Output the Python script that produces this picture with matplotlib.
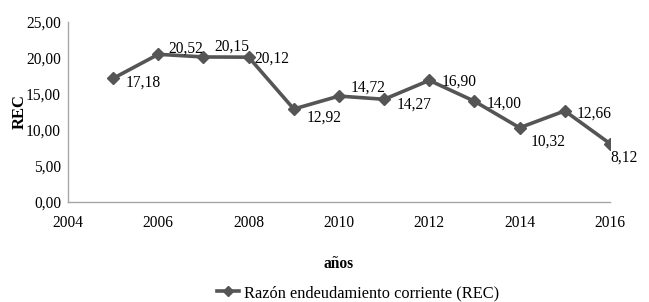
import matplotlib
matplotlib.use('Agg')
import matplotlib.pyplot as plt
from matplotlib.ticker import FuncFormatter

plt.rcParams['font.family'] = ['Liberation Serif', 'DejaVu Serif']

# datos
anios = [2005, 2006, 2007, 2008, 2009, 2010, 2011, 2012, 2013, 2014, 2015, 2016]
rec = [17.18, 20.52, 20.15, 20.12, 12.92, 14.72, 14.27, 16.90, 14.00, 10.32, 12.66, 8.12]
# posicion de cada etiqueta respecto al punto (en pixeles)
offsets = [(12, -4), (10, 6), (11, 10), (6, -1), (13, -9), (12, 8), (12, -5), (12, -1),
           (12, -2), (11, -14), (12, -3), (0, -14)]

fig = plt.figure(figsize=(6.49, 3.02), dpi=100)
ax = fig.add_axes([0.1048, 0.331, 0.835, 0.596])

ax.plot(anios, rec, color='#555555', linewidth=2.6, marker='D', markersize=6,
        label='Razón endeudamiento corriente (REC)')

for x, y, (dx, dy) in zip(anios, rec, offsets):
    ax.annotate(('%.2f' % y).replace('.', ','), (x, y), xytext=(dx * 0.72, dy * 0.72),
                textcoords='offset points', ha='left', va='center', fontsize=11.2)

ax.set_xlim(2004, 2016)
ax.set_ylim(0, 25)
ax.set_xticks(range(2004, 2017, 2))
ax.set_yticks(range(0, 26, 5))
ax.yaxis.set_major_formatter(FuncFormatter(lambda v, p: ('%.2f' % v).replace('.', ',')))
ax.tick_params(length=0, labelsize=11.2)
ax.tick_params(axis='x', pad=9)
ax.tick_params(axis='y', pad=5)

for s in ['top', 'right']:
    ax.spines[s].set_visible(False)
for s in ['left', 'bottom']:
    ax.spines[s].set_color('#a6a6a6')
    ax.spines[s].set_linewidth(1)

ax.set_xlabel('años', fontweight='bold', fontsize=11.2, labelpad=18)
ax.set_ylabel('REC', fontweight='bold', fontsize=12, labelpad=-1)

ax.legend(loc='upper center', bbox_to_anchor=(0.535, -0.38), frameon=False,
          fontsize=11.8, handlelength=1.35, handletextpad=0.3, markerscale=0.8)

fig.savefig('out.png', dpi=100)
